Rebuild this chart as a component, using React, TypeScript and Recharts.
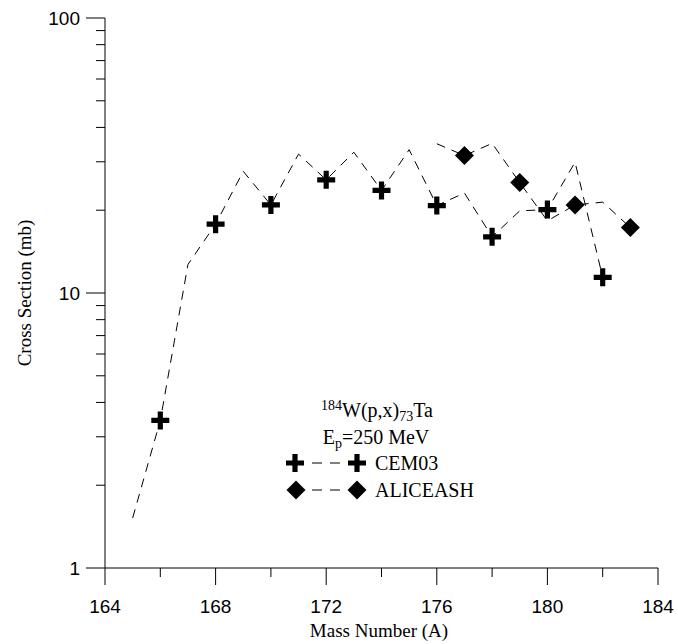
import { Line, LineChart, XAxis, YAxis } from "recharts";

// Mass numbers and cross sections (mb)
const MASS = [165, 166, 167, 168, 169, 170, 171, 172, 173, 174, 175, 176, 177, 178, 179, 180, 181, 182, 183];
const CEM03 = [1.52, 3.44, 12.7, 17.8, 27.7, 20.9, 32.0, 25.8, 32.5, 23.6, 33.2, 20.8, 23.1, 16.0, 19.9, 20.1, 29.9, 11.4, null];
const ALICEASH = [null, null, null, null, null, null, null, null, null, null, null, 34.9, 31.6, 35.0, 25.2, 18.3, 20.9, 21.4, 17.3];

const X_TICKS = [164, 166, 168, 170, 172, 174, 176, 178, 180, 182, 184];
const X_LABELS = [164, 168, 172, 176, 180, 184];
const Y_TICKS = [1, 2, 3, 4, 5, 6, 7, 8, 9, 10, 20, 30, 40, 50, 60, 70, 80, 90, 100];
const Y_LABELS = [1, 10, 100];

const W = 678;
const H = 644;
const SERIF = "'Liberation Serif', 'Times New Roman', serif";
const SANS = "'Liberation Sans', Arial, sans-serif";
const DASH = "9 7";

const data = MASS.map((a, i) => ({ a, cem: CEM03[i], alice: ALICEASH[i] }));

function Plus({ x, y }: { x: number; y: number }) {
  const r = 9;
  const t = 2.6;
  return (
    <path
      d={`M${x - t},${y - r}H${x + t}V${y - t}H${x + r}V${y + t}H${x + t}V${y + r}H${x - t}V${y + t}H${x - r}V${y - t}H${x - t}Z`}
      fill="#000"
    />
  );
}

function Diamond({ x, y }: { x: number; y: number }) {
  const r = 9.5;
  return <path d={`M${x},${y - r}L${x + r},${y}L${x},${y + r}L${x - r},${y}Z`} fill="#000" />;
}

const XTick = (props: any) => {
  const { x, y, payload } = props;
  const major = X_LABELS.includes(payload.value);
  return (
    <g>
      <line x1={x} x2={x} y1={y} y2={y + (major ? 17 : 9)} stroke="#000" strokeWidth={1} />
      {major && (
        <text x={x} y={y + 45} textAnchor="middle" fontFamily={SANS} fontSize={19} fill="#000">
          {payload.value}
        </text>
      )}
    </g>
  );
};

const YTick = (props: any) => {
  const { x, y, payload } = props;
  const major = Y_LABELS.includes(payload.value);
  return (
    <g>
      <line x1={x - (major ? 19 : 9)} x2={x} y1={y} y2={y} stroke="#000" strokeWidth={1} />
      {major && (
        <text x={x - 25} y={y} textAnchor="end" dominantBaseline="central" fontFamily={SANS} fontSize={19} fill="#000">
          {payload.value}
        </text>
      )}
    </g>
  );
};

const cemDot = (props: any) => {
  const { cx, cy, payload, index } = props;
  if (payload.cem == null || payload.a % 2 !== 0) return <g key={`c-${index}`} />;
  return <Plus key={`c-${index}`} x={cx} y={cy} />;
};

const aliceDot = (props: any) => {
  const { cx, cy, payload, index } = props;
  if (payload.alice == null || payload.a % 2 === 0) return <g key={`a-${index}`} />;
  return <Diamond key={`a-${index}`} x={cx} y={cy} />;
};

export default function App() {
  return (
    <div style={{ position: "absolute", left: 0, top: 0, width: W, height: H, background: "#fff" }}>
      <LineChart width={W} height={H} data={data} margin={{ top: 18, right: 20, bottom: 0, left: 0 }}>
        <XAxis
          dataKey="a"
          type="number"
          domain={[164, 184]}
          ticks={X_TICKS}
          interval={0}
          height={76}
          tickSize={0}
          tickMargin={0}
          tick={XTick}
          axisLine={{ stroke: "#000", strokeWidth: 1 }}
          tickLine={false}
        />
        <YAxis
          type="number"
          scale="log"
          domain={[1, 100]}
          ticks={Y_TICKS}
          interval={0}
          width={105}
          tickSize={0}
          tickMargin={0}
          tick={YTick}
          axisLine={{ stroke: "#000", strokeWidth: 1 }}
          tickLine={false}
          allowDataOverflow
        />
        <Line
          dataKey="cem"
          type="linear"
          stroke="#000"
          strokeWidth={1}
          strokeDasharray={DASH}
          dot={cemDot}
          activeDot={false}
          isAnimationActive={false}
        />
        <Line
          dataKey="alice"
          type="linear"
          stroke="#000"
          strokeWidth={1}
          strokeDasharray={DASH}
          dot={aliceDot}
          activeDot={false}
          isAnimationActive={false}
        />
      </LineChart>

      {/* titles, reaction note and legend */}
      <svg width={W} height={H} style={{ position: "absolute", left: 0, top: 0, pointerEvents: "none" }}>
        <text
          transform="translate(24,293) rotate(-90)"
          textAnchor="middle"
          dominantBaseline="central"
          fontFamily={SERIF}
          fontSize={19}
          fill="#000"
        >
          Cross Section (mb)
        </text>
        <text x={379} y={637} textAnchor="middle" fontFamily={SERIF} fontSize={19} fill="#000">
          Mass Number (A)
        </text>

        <text x={377} y={417} textAnchor="middle" fontFamily={SERIF} fontSize={20} fill="#000">
          <tspan fontSize={14} dy={-7}>184</tspan>
          <tspan dy={7}>W(p,x)</tspan>
          <tspan fontSize={14} dy={4}>73</tspan>
          <tspan dy={-4}>Ta</tspan>
        </text>
        <text x={376} y={444} textAnchor="middle" fontFamily={SERIF} fontSize={20} fill="#000">
          <tspan>E</tspan>
          <tspan fontSize={14} dy={4}>p</tspan>
          <tspan dy={-4}>=250 MeV</tspan>
        </text>

        <Plus x={295} y={463} />
        <line x1={312} x2={344} y1={463} y2={463} stroke="#000" strokeWidth={1} strokeDasharray="10 8" />
        <Plus x={357} y={463} />
        <text x={375} y={463} dominantBaseline="central" fontFamily={SERIF} fontSize={20} fill="#000">
          CEM03
        </text>

        <Diamond x={296} y={490} />
        <line x1={312} x2={344} y1={490} y2={490} stroke="#000" strokeWidth={1} strokeDasharray="10 8" />
        <Diamond x={357} y={490} />
        <text x={375} y={490} dominantBaseline="central" fontFamily={SERIF} fontSize={20} fill="#000">
          ALICEASH
        </text>
      </svg>
    </div>
  );
}
